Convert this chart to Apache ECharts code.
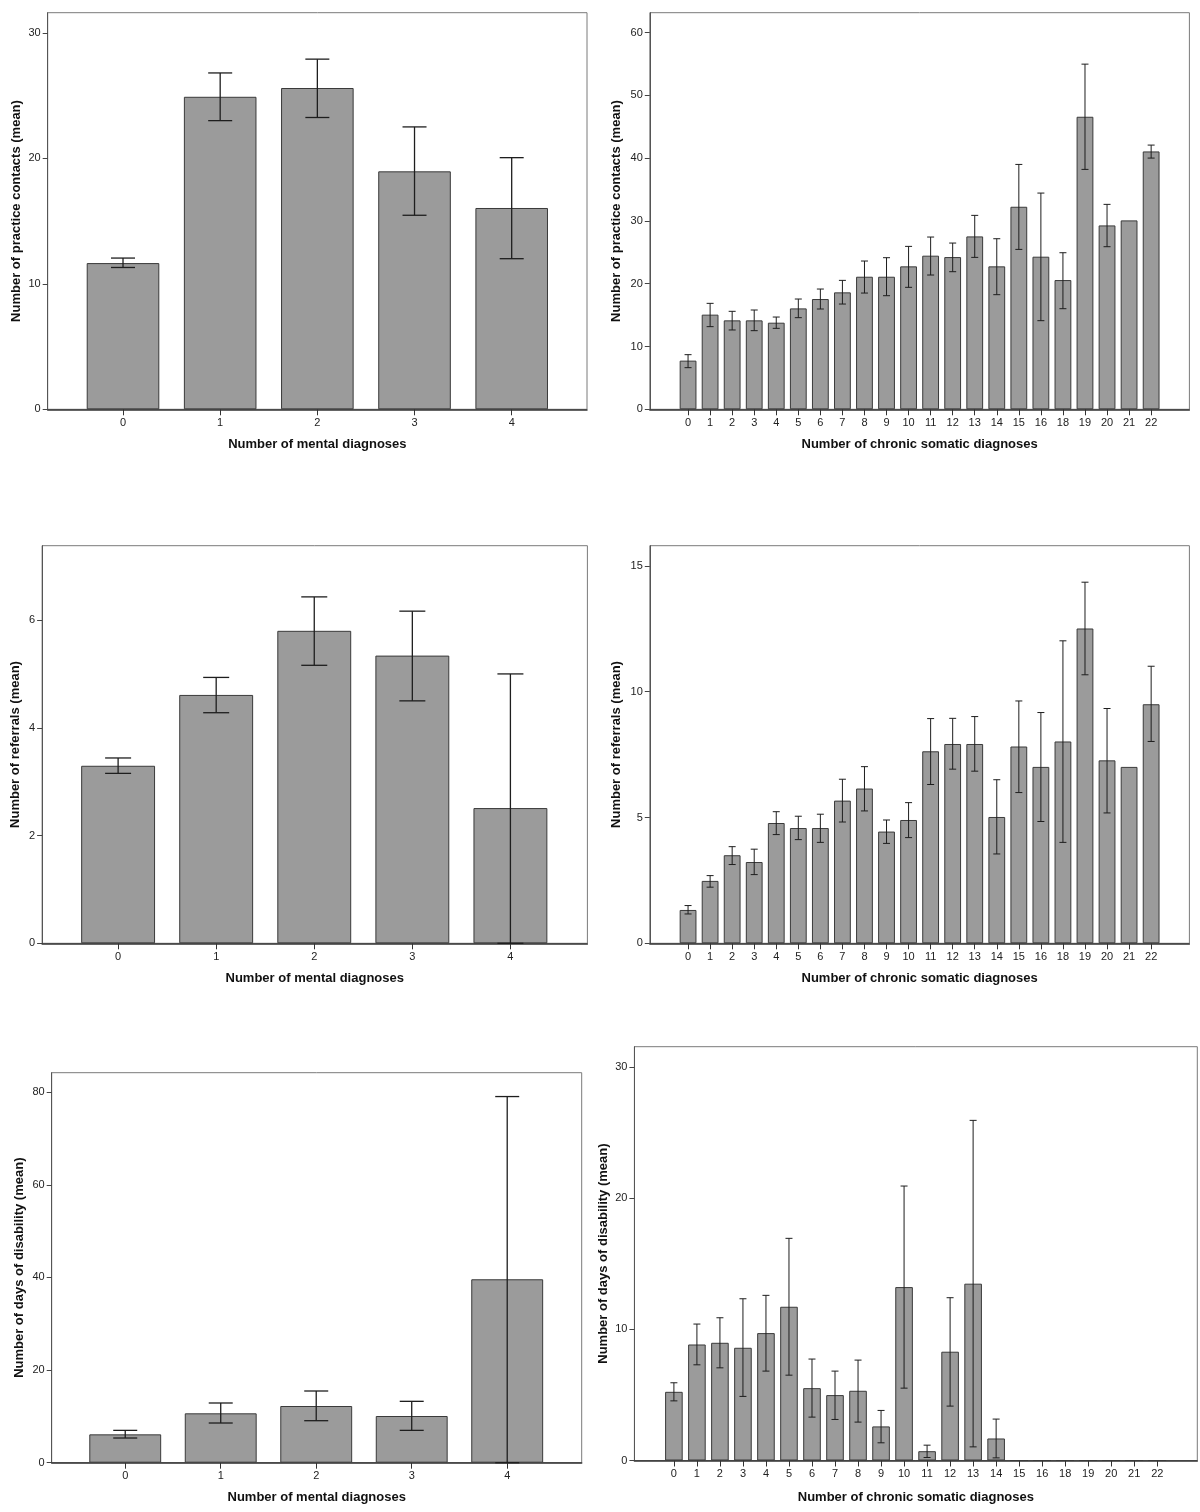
<!DOCTYPE html>
<html>
<head>
<meta charset="utf-8">
<script src="https://cdn.jsdelivr.net/npm/echarts@6/dist/echarts.min.js"></script>
<style>
html,body{margin:0;padding:0;background:#fff;}
#chart{width:1200px;height:1512px;}
</style>
</head>
<body>
<div id="chart"></div>
<script>
// ---------- categories ----------
const mentalCats = ['0', '1', '2', '3', '4'];
const somaticCats = ['0','1','2','3','4','5','6','7','8','9','10','11','12','13','14','15','16','18','19','20','21','22'];

// ---------- practice contacts ----------
const contactsMental     = [11.65, 24.9, 25.6, 18.96, 16.04];
const contactsMentalLow  = [11.3, 23.0, 23.25, 15.46, 12.0];
const contactsMentalHigh = [12.05, 26.8, 27.9, 22.5, 20.05];

const contactsSomatic     = [7.75,15.07,14.16,14.16,13.79,16.07,17.56,18.62,21.11,21.11,22.76,24.46,24.24,27.53,22.76,32.25,24.30,20.58,46.58,29.28,30.08,41.06];
const contactsSomaticLow  = [6.63,13.16,12.63,12.52,12.89,14.59,15.97,16.76,18.51,18.09,19.42,21.38,21.91,24.19,18.25,25.46,14.11,16.02,38.20,25.89,null,40.0];
const contactsSomaticHigh = [8.70,16.87,15.60,15.81,14.69,17.56,19.15,20.53,23.61,24.14,25.94,27.43,26.47,30.88,27.16,38.99,34.43,24.93,54.96,32.63,null,42.07];

// ---------- referrals ----------
const referralsMental     = [3.295, 4.61, 5.80, 5.34, 2.51];
const referralsMentalLow  = [3.154, 4.28, 5.16, 4.50, 0];
const referralsMentalHigh = [3.44, 4.935, 6.43, 6.165, 5.0];

const referralsSomatic     = [1.325,2.48,3.50,3.23,4.78,4.58,4.58,5.67,6.15,4.44,4.90,7.63,7.92,7.92,5.02,7.82,7.01,8.02,12.51,7.27,7.01,9.50];
const referralsSomaticLow  = [1.166,2.23,3.13,2.73,4.32,4.12,4.01,4.82,5.26,3.97,4.20,6.31,6.92,6.84,3.55,5.99,4.84,4.01,10.67,5.18,null,8.02];
const referralsSomaticHigh = [1.50,2.69,3.84,3.74,5.23,5.05,5.13,6.52,7.02,4.90,5.59,8.93,8.94,9.01,6.50,9.63,9.17,12.02,14.35,9.33,null,11.01];

// ---------- days of disability ----------
const disabilityMental     = [6.12, 10.66, 12.24, 10.08, 39.6];
const disabilityMentalLow  = [5.33, 8.57, 9.07, 6.98, 0];
const disabilityMentalHigh = [6.98, 12.89, 15.48, 13.25, 79.05];

const disabilitySomatic     = [5.24,8.85,8.98,8.60,9.72,11.73,5.52,4.99,5.32,2.60,13.23,0.71,8.30,13.49,1.68,0,0,0,0,0,0,0];
const disabilitySomaticLow  = [4.55,7.30,7.07,4.89,6.82,6.51,3.31,3.13,2.93,1.35,5.52,0.23,4.15,1.04,0.20,null,null,null,null,null,null,null];
const disabilitySomaticHigh = [5.93,10.41,10.89,12.34,12.60,16.95,7.74,6.82,7.66,3.82,20.94,1.17,12.42,25.95,3.16,null,null,null,null,null,null,null];

// ---------- tick labels ----------
const contactsMentalTicks   = [0, 10, 20, 30];
const contactsSomaticTicks  = [0, 10, 20, 30, 40, 50, 60];
const referralsMentalTicks  = [0, 2, 4, 6];
const referralsSomaticTicks = [0, 5, 10, 15];
const disabilityMentalTicks = [0, 20, 40, 60, 80];
const disabilitySomaticTicks= [0, 10, 20, 30];

// ---------- axis titles ----------
const xTitleMental  = 'Number of mental diagnoses';
const xTitleSomatic = 'Number of chronic somatic diagnoses';
const yTitleContacts   = 'Number of practice contacts (mean)';
const yTitleReferrals  = 'Number of referrals (mean)';
const yTitleDisability = 'Number of days of disability (mean)';

// ---------- layout / styling ----------
const panels = [
  {grid:{left:47.7, top:12.7, width:539.3, height:396.6}, cats:mentalCats, xr:[-0.775,4.775], ymax:31.6, ticks:contactsMentalTicks,
   vals:contactsMental, lo:contactsMentalLow, hi:contactsMentalHigh, xName:xTitleMental, yName:yTitleContacts, barW:72.6, cap:12, lw:1.3, yGap:25, xGap:29},
  {grid:{left:649.8, top:12.7, width:539.6, height:396.6}, cats:somaticCats, xr:[-1.735,22.735], ymax:63.15, ticks:contactsSomaticTicks,
   vals:contactsSomatic, lo:contactsSomaticLow, hi:contactsSomaticHigh, xName:xTitleSomatic, yName:yTitleContacts, barW:16.8, cap:3.5, lw:1, yGap:27, xGap:29},
  {grid:{left:42.1, top:545.7, width:545.3, height:397.6}, cats:mentalCats, xr:[-0.775,4.785], ymax:7.38, ticks:referralsMentalTicks,
   vals:referralsMental, lo:referralsMentalLow, hi:referralsMentalHigh, xName:xTitleMental, yName:yTitleReferrals, barW:73.9, cap:13, lw:1.3, yGap:20, xGap:29},
  {grid:{left:649.8, top:545.7, width:539.6, height:397.6}, cats:somaticCats, xr:[-1.735,22.735], ymax:15.8, ticks:referralsSomaticTicks,
   vals:referralsSomatic, lo:referralsSomaticLow, hi:referralsSomaticHigh, xName:xTitleSomatic, yName:yTitleReferrals, barW:16.8, cap:3.5, lw:1, yGap:27, xGap:29},
  {grid:{left:51.7, top:1072.7, width:530, height:390}, cats:mentalCats, xr:[-0.77,4.78], ymax:84.2, ticks:disabilityMentalTicks,
   vals:disabilityMental, lo:disabilityMentalLow, hi:disabilityMentalHigh, xName:xTitleMental, yName:yTitleDisability, barW:71.9, cap:12, lw:1.3, yGap:26, xGap:28},
  {grid:{left:634.4, top:1046.7, width:562.9, height:413.8}, cats:somaticCats, xr:[-1.716,22.74], ymax:31.57, ticks:disabilitySomaticTicks,
   vals:disabilitySomatic, lo:disabilitySomaticLow, hi:disabilitySomaticHigh, xName:xTitleSomatic, yName:yTitleDisability, barW:17.6, cap:3.5, lw:1, yGap:24, xGap:30}
];

const FONT = 'Liberation Sans, Arial, sans-serif';

function errRender(capHalf, lw) {
  return function (params, api) {
    const x = api.value(0), lo = api.value(1), hi = api.value(2);
    const a = api.coord([x, lo]);
    const b = api.coord([x, hi]);
    const style = {stroke: '#1e1e1e', lineWidth: lw};
    return {
      type: 'group',
      children: [
        {type: 'line', shape: {x1: a[0], y1: a[1], x2: b[0], y2: b[1]}, style: style},
        {type: 'line', shape: {x1: b[0] - capHalf, y1: b[1], x2: b[0] + capHalf, y2: b[1]}, style: style},
        {type: 'line', shape: {x1: a[0] - capHalf, y1: a[1], x2: a[0] + capHalf, y2: a[1]}, style: style}
      ]
    };
  };
}

const option = {
  animation: false,
  backgroundColor: '#ffffff',
  grid: [], xAxis: [], yAxis: [], series: []
};

panels.forEach(function (p, i) {
  option.grid.push(Object.assign({show: true, borderColor: '#7a7a7a', borderWidth: 1, backgroundColor: 'transparent'}, p.grid));
  const idx = p.cats.map(function (c, k) { return k; });
  option.xAxis.push({
    type: 'value', gridIndex: i, min: p.xr[0], max: p.xr[1],
    splitLine: {show: false},
    axisLine: {show: true, onZero: false, lineStyle: {color: '#333', width: 1.5}},
    axisTick: {show: true, length: 6, lineStyle: {color: '#333'}, customValues: idx},
    axisLabel: {show: true, margin: 8, fontSize: 11, color: '#222', fontFamily: FONT, customValues: idx,
      formatter: function (v) { return p.cats[Math.round(v)]; }},
    name: p.xName, nameLocation: 'middle', nameGap: p.xGap,
    nameTextStyle: {fontFamily: FONT, fontWeight: 'bold', fontSize: 13, color: '#111'}
  });
  option.yAxis.push({
    type: 'value', gridIndex: i, min: 0, max: p.ymax, position: 'left',
    splitLine: {show: false},
    axisLine: {show: true, onZero: false, lineStyle: {color: '#555', width: 1}},
    axisTick: {show: true, length: 5, lineStyle: {color: '#444'}, customValues: p.ticks},
    axisLabel: {show: true, margin: 7, fontSize: 11, color: '#222', fontFamily: FONT, customValues: p.ticks},
    name: p.yName, nameLocation: 'middle', nameGap: p.yGap,
    nameTextStyle: {fontFamily: FONT, fontWeight: 'bold', fontSize: 13, color: '#111'}
  });
  option.series.push({
    type: 'bar', xAxisIndex: i, yAxisIndex: i, barWidth: p.barW,
    itemStyle: {color: '#9b9b9b', borderColor: '#3a3a3a', borderWidth: 1},
    data: p.vals.map(function (v, k) { return [k, v]; }),
    z: 2
  });
  const err = [];
  p.vals.forEach(function (v, k) {
    if (p.lo[k] !== null && p.hi[k] !== null) err.push([k, p.lo[k], p.hi[k]]);
  });
  option.series.push({
    type: 'custom', xAxisIndex: i, yAxisIndex: i, renderItem: errRender(p.cap, p.lw),
    encode: {x: 0, y: [1, 2]}, data: err, z: 5, clip: false
  });
});

const chart = echarts.init(document.getElementById('chart'), null, {renderer: 'canvas'});
chart.setOption(option);
</script>
</body>
</html>
